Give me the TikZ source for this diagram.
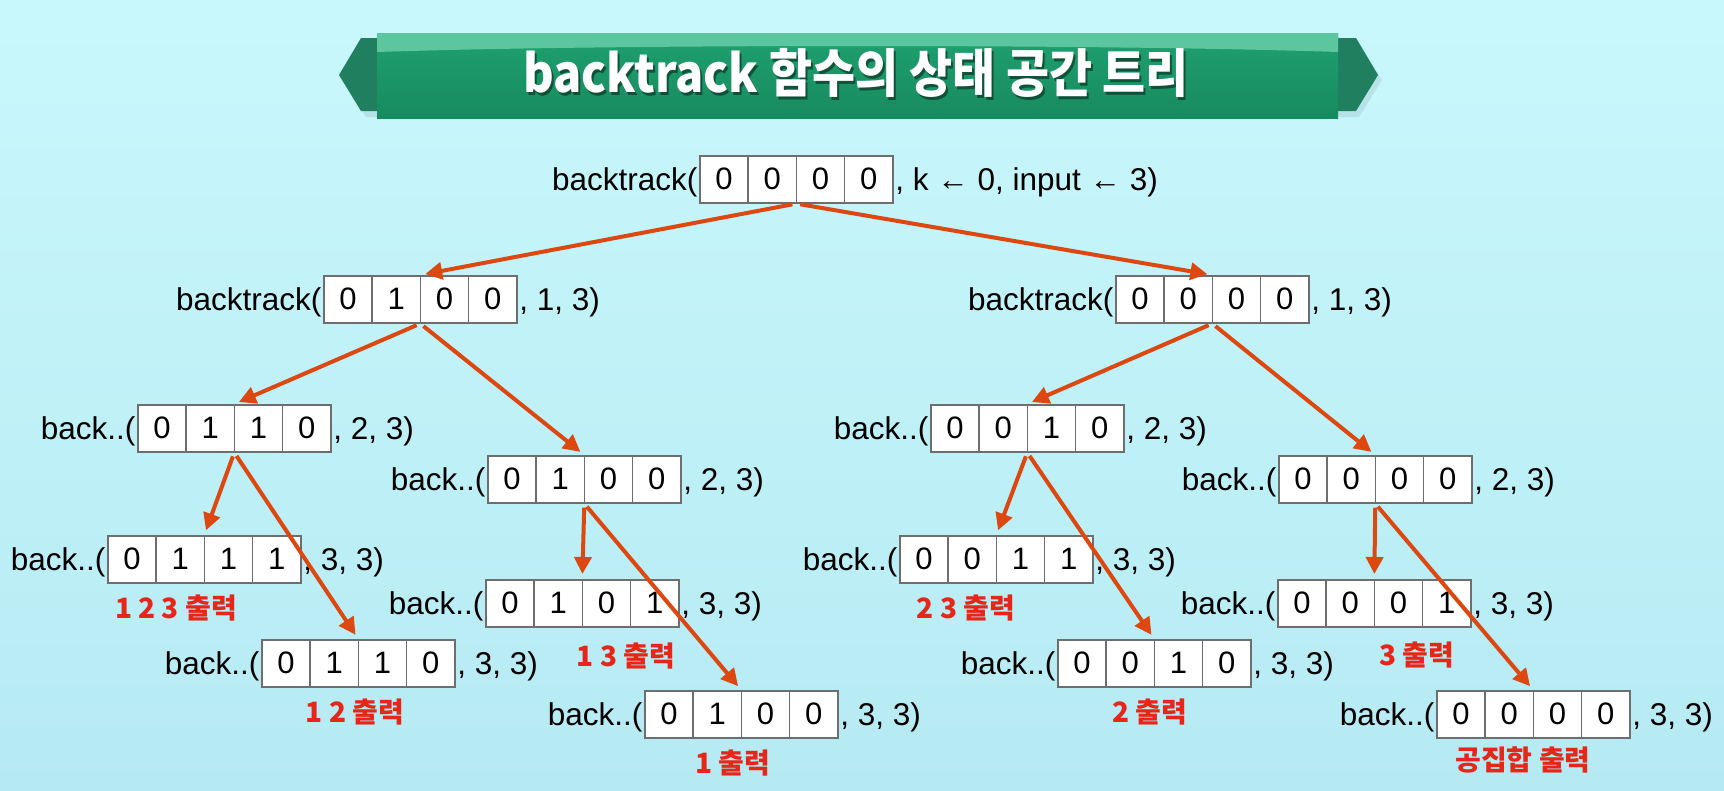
\documentclass[tikz,border=0pt]{standalone}
\usepackage{fontspec}
\usepackage{graphicx}
\setmainfont{Liberation Sans}
\newfontfamily\kr{Noto Sans CJK KR}
\usetikzlibrary{arrows.meta,calc}
\definecolor{bgtop}{HTML}{C9F8FC}
\definecolor{bgbot}{HTML}{B6EAF3}
\definecolor{bandark}{HTML}{1F7F5F}
\definecolor{bantop}{HTML}{5CC79F}
\definecolor{banmid}{HTML}{1FA070}
\definecolor{banbot}{HTML}{178B60}
\definecolor{boxgray}{HTML}{6E6E6E}
\definecolor{arrc}{HTML}{DC480F}
\definecolor{lblred}{HTML}{E52619}
\newcommand\cellrow[4]{\makebox[48.25pt]{#1}\makebox[48.25pt]{#2}\makebox[48.25pt]{#3}\makebox[48.25pt]{#4}}
\tikzset{
  cellbox/.style={draw=boxgray, line width=1.6pt, fill=white, inner sep=0pt,
    minimum width=193pt, minimum height=47pt, anchor=north west,
    font=\fontsize{31}{31}\selectfont,
    path picture={\foreach \k in {1,2,3}{\draw[boxgray,line width=1.6pt]
      ($(path picture bounding box.north west)!\k/4!(path picture bounding box.north east)$) --
      ($(path picture bounding box.south west)!\k/4!(path picture bounding box.south east)$);}}},
  pretext/.style={font=\fontsize{31.5}{31.5}\selectfont, inner sep=1.5pt, anchor=base east},
  posttext/.style={font=\fontsize{31.5}{31.5}\selectfont, inner sep=1.5pt, anchor=base west},
  outlbl/.style={font=\kr\bfseries\fontsize{28}{28}\selectfont, text=lblred, inner sep=0pt},
  link/.style={draw=arrc, line width=4pt, -{Triangle[length=17pt,width=17pt]},
    shorten <=4pt, shorten >=5pt},
  titletext/.style={font=\kr\bfseries\fontsize{52}{52}\selectfont, inner sep=0pt},
}
\newcommand\statenode[9]{%
  \node[cellbox] (#1) at (#8,#9) {\cellrow#3};
  \node[pretext] (#1-pre) at ($(#1.west)+(0,11)$) {#2};
  \node[posttext] (#1-post) at ($(#1.east)+(0,11)$) {#4};
}
\begin{document}
\begin{tikzpicture}[x=1pt,y=-1pt]
% background
\shade[top color=bgtop, bottom color=bgbot] (0,0) rectangle (1724,790);
\useasboundingbox (0,0) rectangle (1724,790);
% banner
\fill[black,opacity=0.08] (343,80) -- (366,43) -- (1359,43) -- (1382,80) -- (1359,117) -- (366,117) -- cycle;
\fill[bandark] (339,75) -- (361,38) -- (1356,38) -- (1378,75) -- (1356,111) -- (361,111) -- cycle;
\shade[top color=banmid, bottom color=banbot] (377,33) rectangle (1338,118);
\fill[bantop] (377,33) -- (1338,33) -- (1338,52) .. controls (1100,44) and (615,44) .. (377,52) -- cycle;
\node[titletext, text=black!70!bandark, opacity=0.6] (titleshadow) at (858,76) {\scalebox{0.9}[1]{backtrack 함수의 상태 공간 트리}};
\node[titletext, text=white] (title) at (856,73) {\scalebox{0.9}[1]{backtrack 함수의 상태 공간 트리}};
% nodes
\statenode{top}{backtrack(}{{0}{0}{0}{0}}{, k \char"2190\ 0, input \char"2190\ 3)}{}{}{}{699}{155}
\statenode{lta}{backtrack(}{{0}{1}{0}{0}}{, 1, 3)}{}{}{}{323}{275}
\statenode{ltb}{backtrack(}{{0}{0}{0}{0}}{, 1, 3)}{}{}{}{1115}{275}
\statenode{na}{back..(}{{0}{1}{1}{0}}{, 2, 3)}{}{}{}{137}{404}
\statenode{nb}{back..(}{{0}{1}{0}{0}}{, 2, 3)}{}{}{}{487}{455}
\statenode{nc}{back..(}{{0}{0}{1}{0}}{, 2, 3)}{}{}{}{930}{404}
\statenode{nd}{back..(}{{0}{0}{0}{0}}{, 2, 3)}{}{}{}{1278}{455}
\statenode{ne}{back..(}{{0}{1}{1}{1}}{, 3, 3)}{}{}{}{107}{535}
\statenode{nf}{back..(}{{0}{1}{1}{0}}{, 3, 3)}{}{}{}{261}{639}
\statenode{ng}{back..(}{{0}{1}{0}{1}}{, 3, 3)}{}{}{}{485}{579}
\statenode{nh}{back..(}{{0}{1}{0}{0}}{, 3, 3)}{}{}{}{644}{690}
\statenode{ni}{back..(}{{0}{0}{1}{1}}{, 3, 3)}{}{}{}{899}{535}
\statenode{nj}{back..(}{{0}{0}{1}{0}}{, 3, 3)}{}{}{}{1057}{639}
\statenode{nk}{back..(}{{0}{0}{0}{1}}{, 3, 3)}{}{}{}{1277}{579}
\statenode{nl}{back..(}{{0}{0}{0}{0}}{, 3, 3)}{}{}{}{1436}{690}
% labels
\node[outlbl] (le) at (176,608) {1 2 3 출력};
\node[outlbl] (lf) at (355,712) {1 2 출력};
\node[outlbl] (lg) at (626,656) {1 3 출력};
\node[outlbl] (lh) at (733,763) {1 출력};
\node[outlbl] (li) at (966,608) {2 3 출력};
\node[outlbl] (lj) at (1150,712) {2 출력};
\node[outlbl] (lk) at (1417,655) {3 출력};
\node[outlbl] (ll) at (1523,760) {공집합 출력};
% connectors
\draw[link] (top.south) -- (lta.north);
\draw[link] (top.south) -- (ltb.north);
\draw[link] (lta.south) -- (na.north);
\draw[link] (lta.south) -- (nb.north);
\draw[link] (ltb.south) -- (nc.north);
\draw[link] (ltb.south) -- (nd.north);
\draw[link] (na.south) -- (ne.north);
\draw[link] (na.south) -- (nf.north);
\draw[link] (nb.south) -- (ng.north);
\draw[link] (nb.south) -- (nh.north);
\draw[link] (nc.south) -- (ni.north);
\draw[link] (nc.south) -- (nj.north);
\draw[link] (nd.south) -- (nk.north);
\draw[link] (nd.south) -- (nl.north);
\end{tikzpicture}
\end{document}
